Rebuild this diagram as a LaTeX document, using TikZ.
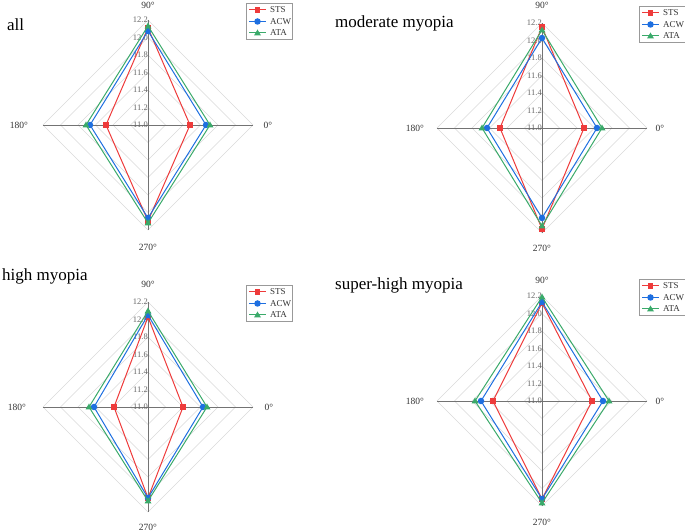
\documentclass[tikz,border=0pt]{standalone}
\usepackage{fontspec}
\setmainfont{Liberation Serif}
\begin{document}
\begin{tikzpicture}[x=1pt,y=1pt,
  grid/.style={draw=black!15,line width=0.6pt},
  axisline/.style={draw=black!55,line width=0.8pt},
  tick/.style={font=\fontsize{8.5}{9}\selectfont,text=black!60,anchor=east,inner sep=0pt},
  deg/.style={font=\fontsize{9.5}{10}\selectfont,text=black!80},
  ttl/.style={font=\fontsize{17}{19}\selectfont,anchor=west,inner sep=0pt},
  legbox/.style={draw=black!40,line width=0.5pt,fill=white},
  legtxt/.style={font=\fontsize{9}{9}\selectfont,anchor=west,inner sep=0pt,text=black!80}]
\definecolor{cR}{HTML}{EE3B3B}
\definecolor{cB}{HTML}{1E6FE0}
\definecolor{cG}{HTML}{3AAA6A}
\useasboundingbox (0,0) rectangle (685,532);
\tikzset{
  sqm/.style={fill=cR,draw=none,minimum size=5.5pt,inner sep=0pt,rectangle},
  cim/.style={fill=cB,draw=none,minimum size=6.5pt,inner sep=0pt,circle}}
\newcommand\rdseries[6]{% color, marker, R,T,L,B
  \draw[#1,line width=1pt] (#3,0) -- (0,#4) -- (-#5,0) -- (0,-#6) -- cycle;
  \foreach \p in {(#3,0),(0,#4),(-#5,0),(0,-#6)} {\node[#2] at \p {};}}
\newcommand\rdseriestri[4]{%
  \draw[cG,line width=1pt] (#1,0) -- (0,#2) -- (-#3,0) -- (0,-#4) -- cycle;
  \foreach \p in {(#1,0),(0,#2),(-#3,0),(0,-#4)} {\fill[cG] \p ++(-3.5,-2.5) -- ++(7,0) -- ++(-3.5,6) -- cycle;}}
\newcommand\rdframe[2]{% cx, cy (pixel)
  \begin{scope}[shift={(#1,532-#2)}]
  \foreach \k in {1,...,6} {\draw[grid] (\k*17.5,0) -- (0,\k*17.5) -- (-\k*17.5,0) -- (0,-\k*17.5) -- cycle;}
  \draw[axisline] (-105,0) -- (105,0);
  \draw[axisline] (0,-105) -- (0,105);
  \foreach \v [count=\i from 0] in {11.0,11.2,11.4,11.6,11.8,12.0,12.2} {\node[tick] at (0,\i*17.5) {\v};}
  \end{scope}}
\newcommand\rdlegend[2]{% left, top pixel
  \begin{scope}[shift={(#1,532-#2)}]
  \draw[legbox] (0,0) rectangle (46,-36);
  \draw[cR,line width=1pt] (3,-7) -- (20,-7); \node[sqm] at (11.5,-7) {};
  \draw[cB,line width=1pt] (3,-18.5) -- (20,-18.5); \node[cim] at (11.5,-18.5) {};
  \draw[cG,line width=1pt] (3,-30) -- (20,-30); \fill[cG] (11.5,-30) ++(-3.5,-2.5) -- ++(7,0) -- ++(-3.5,6) -- cycle;
  \node[legtxt] at (24,-7) {STS};
  \node[legtxt] at (24,-18.5) {ACW};
  \node[legtxt] at (24,-30) {ATA};
  \end{scope}}
% ---- panel: all
\rdframe{148}{125}
\begin{scope}[shift={(148,532-125)}]
\rdseries{cR}{sqm}{42}{97}{42}{96}
\rdseries{cB}{cim}{58}{94}{58}{93}
\rdseriestri{62}{99}{62}{98}
\node[deg] at (0,120) {90°}; \node[deg] at (120,0) {0°};
\node[deg] at (-129,0) {180°}; \node[deg] at (0,-122) {270°};
\end{scope}
\rdlegend{246}{3}
\node[ttl] at (7,532-25) {all};
% ---- panel: moderate
\rdframe{542}{128}
\begin{scope}[shift={(542,532-128)}]
\rdseries{cR}{sqm}{42}{101}{42}{101}
\rdseries{cB}{cim}{55}{90}{55}{90}
\rdseriestri{60}{98}{60}{98}
\node[deg] at (0,123) {90°}; \node[deg] at (118,0) {0°};
\node[deg] at (-127,0) {180°}; \node[deg] at (0,-120) {270°};
\end{scope}
\rdlegend{639}{6}
\node[ttl] at (335,532-23) {moderate myopia};
% ---- panel: high
\rdframe{148}{407}
\begin{scope}[shift={(148,532-407)}]
\rdseries{cR}{sqm}{35}{90}{34}{91}
\rdseries{cB}{cim}{55}{92}{54}{91}
\rdseriestri{59}{96}{59}{94}
\node[deg] at (0,123) {90°}; \node[deg] at (121,0) {0°};
\node[deg] at (-131,0) {180°}; \node[deg] at (0,-120) {270°};
\end{scope}
\rdlegend{246}{285}
\node[ttl] at (2,532-276) {high myopia};
% ---- panel: super-high
\rdframe{542}{401}
\begin{scope}[shift={(542,532-401)}]
\rdseries{cR}{sqm}{50}{98}{49}{98}
\rdseries{cB}{cim}{61}{99}{61}{98}
\rdseriestri{67}{104}{67}{102}
\node[deg] at (0,121) {90°}; \node[deg] at (118,0) {0°};
\node[deg] at (-127,0) {180°}; \node[deg] at (0,-121) {270°};
\end{scope}
\rdlegend{639}{279}
\node[ttl] at (335,532-285) {super-high myopia};
\end{tikzpicture}
\end{document}
